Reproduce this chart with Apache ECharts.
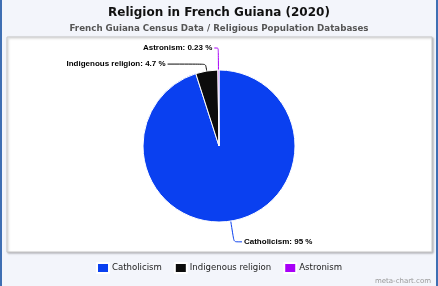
<!DOCTYPE html>
<html><head><meta charset="utf-8">
<script src="https://cdn.jsdelivr.net/npm/echarts@6/dist/echarts.min.js"></script>
<style>
html,body{margin:0;padding:0;background:#f3f5fb;}
#c{width:434px;height:286px;border-left:2px solid #3f6fb3;border-right:2px solid #3f6fb3;}
</style></head>
<body><div id="c"></div>
<script>
const titleText = "Religion in French Guiana (2020)";
const subtitleText = "French Guiana Census Data / Religious Population Databases";
const categories = ["Catholicism", "Indigenous religion", "Astronism"];
const values = [95, 4.7, 0.23];
const colors = ["#0a40f0", "#0c0c0c", "#a800f8"];
const labelLengths = [[21, 8], [7, 38], [22, 4]];

const chart = echarts.init(document.getElementById('c'));
chart.setOption({
  animation: false,
  backgroundColor: '#f3f5fb',
  title: {
    text: titleText, subtext: subtitleText, left: 'center', top: 2, itemGap: 5,
    textStyle: {fontFamily: 'DejaVu Sans', fontWeight: 'bold', fontSize: 12, color: '#111'},
    subtextStyle: {fontFamily: 'DejaVu Sans', fontWeight: 'bold', fontSize: 8.7, color: '#555'}
  },
  graphic: [
    {type: 'rect', shape: {x: 5, y: 37, width: 425, height: 215},
     style: {fill: '#fff', stroke: '#c8c8c8', lineWidth: 1, shadowColor: 'rgba(0,0,0,0.25)', shadowBlur: 2, shadowOffsetX: 1, shadowOffsetY: 1}, z: -10, silent: true},
    {type: 'text', right: 5, bottom: 1,
     style: {text: 'meta-chart.com', fontFamily: 'DejaVu Sans', fontSize: 7, fill: '#999'}}
  ],
  legend: {
    data: categories, bottom: 7, left: 'center', itemWidth: 12, itemHeight: 10, itemGap: 12,
    icon: 'rect',
    textStyle: {fontFamily: 'DejaVu Sans Condensed, DejaVu Sans', fontSize: 9.5, color: '#222', padding: [0,0,0,-2]}
  },
  series: [{
    type: 'pie', center: [217, 146], radius: 76, startAngle: 90, clockwise: true,
    avoidLabelOverlap: false,
    itemStyle: {borderColor: '#fff', borderWidth: 1},
    label: {show: true, position: 'outside', formatter: p => p.name + ': ' + p.value + ' %',
      fontFamily: 'Liberation Sans', fontWeight: 'bold', fontSize: 8, color: '#000', distanceToLabelLine: 2},
    labelLine: {show: true, smooth: 0.2, lineStyle: {width: 1}},
    emphasis: {disabled: true},
    data: categories.map((n, i) => ({
      name: n, value: values[i], itemStyle: {color: colors[i]},
      labelLine: {length: labelLengths[i][0], length2: labelLengths[i][1]}
    }))
  }]
});
</script></body></html>
